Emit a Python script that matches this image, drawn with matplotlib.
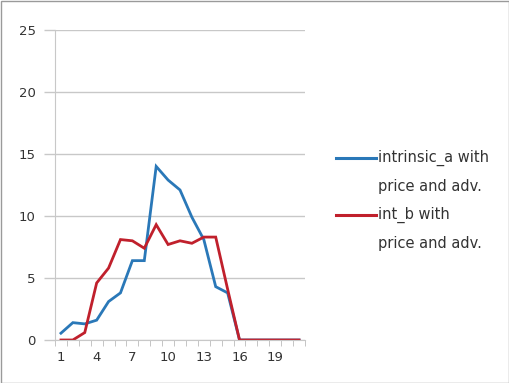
import matplotlib
matplotlib.use("Agg")
import matplotlib.pyplot as plt
from matplotlib.lines import Line2D
from matplotlib.patches import Rectangle

periods = list(range(1, 22))
intrinsic_a = [0.55, 1.4, 1.3, 1.6, 3.1, 3.8, 6.4, 6.4, 14.0, 12.9, 12.1, 9.9, 8.1, 4.3, 3.8,
               0, 0, 0, 0, 0, 0]
int_b = [0, 0, 0.6, 4.6, 5.8, 8.1, 8.0, 7.4, 9.3, 7.7, 8.0, 7.8, 8.3, 8.3, 4.1,
         0, 0, 0, 0, 0, 0]
labels = ["intrinsic_a with\nprice and adv.", "int_b with\nprice and adv."]
colors = ["#2a78b8", "#c0202c"]
xtick_vals = [1, 4, 7, 10, 13, 16, 19]
ytick_vals = [0, 5, 10, 15, 20, 25]

W, H = 510, 383
fig = plt.figure(figsize=(W / 100, H / 100), dpi=100)
ax = fig.add_axes([55 / W, 1 - 340 / H, 250 / W, 310 / H])

for series, c in zip([intrinsic_a, int_b], colors):
    ax.plot(periods, series, color=c, lw=2.0, solid_joinstyle="miter")

ax.set_xlim(0.5, 21.5)
ax.set_ylim(0, 25)
ax.set_yticks(ytick_vals)
ax.set_xticks(xtick_vals)
ax.set_xticks([p + 0.5 for p in [0] + periods], minor=True)
ax.tick_params(axis="x", which="major", length=0, pad=8, labelsize=9.5, colors="#333333")
ax.tick_params(axis="x", which="minor", length=4, color="#bbbbbb", direction="out")
ax.tick_params(axis="y", length=8, width=1, color="#c8c8c8", pad=6, labelsize=9.5,
               labelcolor="#333333")
ax.grid(axis="y", color="#c8c8c8", lw=1)
ax.set_axisbelow(True)
for s in ["top", "right"]:
    ax.spines[s].set_visible(False)
ax.spines["left"].set_color("#c8c8c8")
ax.spines["bottom"].set_color("#c8c8c8")

# legend
ys = [158, 215]
for lab, c, y in zip(labels, colors, ys):
    fig.add_artist(Line2D([336 / W, 376 / W], [1 - y / H, 1 - y / H], color=c, lw=2.2,
                          transform=fig.transFigure))
    fig.text(378 / W, 1 - (y - 8) / H, lab, fontsize=10.5, color="#333333", va="top",
             ha="left", linespacing=2.05)

fig.add_artist(Rectangle((0.5 / W, 0.5 / H), 1 - 1 / W, 1 - 1 / H, fill=False,
                         edgecolor="#9a9a9a", lw=1, transform=fig.transFigure))

fig.savefig("out.png", dpi=100)
